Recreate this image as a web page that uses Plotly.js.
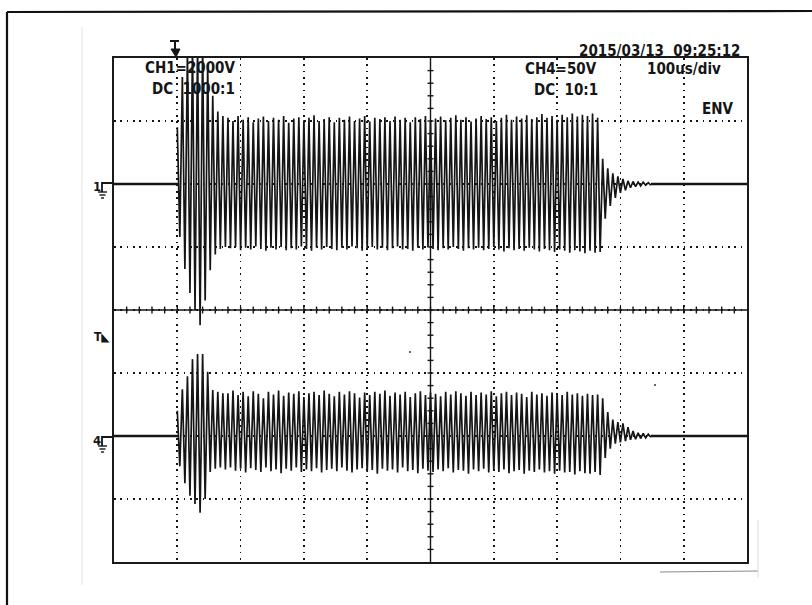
<!DOCTYPE html>
<html><head><meta charset="utf-8">
<script src="https://cdn.plot.ly/plotly-3.0.1.min.js"></script>
<style>html,body{margin:0;padding:0;background:#fff}#chart{width:812px;height:605px}</style>
</head><body><div id="chart"></div>
<script>
// ---- data (time in µs, 100 µs/div; amplitude in screen divisions) ----
const triggerTime = 100;      // burst start
const pairStep = 8;           // µs between successive crests of the envelope record
const ch1Level = 2.0;         // CH1 ground marker
const ch4Level = -2.0;        // CH4 ground marker

const ch1High = [2.9,3.7,4.1,4.2,4.2,4.2,3.9,3.4,3.15,3.08,
 3.05,3.0,3.08,3.02,3.06,2.98,3.04,3.07,3.0,3.05,
 3.02,3.08,2.97,3.04,3.06,3.01,3.05,3.09,3.0,3.03,
 3.06,2.98,3.05,3.02,3.07,3.0,3.04,3.08,2.99,3.05,
 3.03,3.06,3.0,3.07,3.02,3.05,2.98,3.06,3.03,3.08,
 3.0,3.04,3.07,3.01,3.05,3.09,3.02,3.06,2.99,3.04,
 3.08,3.03,3.06,3.0,3.05,3.1,3.02,3.07,3.04,3.09,
 3.03,3.06,3.11,3.05,3.08,3.02,3.1,3.06,3.12,3.07,
 3.1,3.08,3.12,3.05,
 2.4,2.25,2.17,2.12,2.08,2.05,2.04,2.03,2.03,2.02];
const ch1Low = [1.16,0.65,0.27,0.0,-0.24,0.15,0.63,0.88,0.97,1.0,
 0.98,1.0,0.95,0.99,0.96,1.01,0.97,0.94,0.99,0.96,
 1.0,0.95,0.98,0.96,1.01,0.97,0.94,0.99,0.96,1.0,
 0.97,0.95,0.99,0.96,1.01,0.98,0.94,0.97,1.0,0.96,
 0.99,0.95,0.98,1.01,0.96,0.97,0.94,0.99,0.96,1.0,
 0.97,0.95,0.98,0.96,1.0,0.97,0.94,0.98,0.96,0.99,
 0.95,0.97,1.0,0.96,0.93,0.98,0.95,0.97,0.94,0.99,
 0.96,0.93,0.97,0.95,0.92,0.96,0.94,0.91,0.95,0.93,
 0.9,0.94,0.91,0.92,
 1.45,1.65,1.78,1.86,1.9,1.94,1.96,1.97,1.98,1.98];
const ch4High = [-1.6,-1.26,-1.05,-0.78,-0.7,-0.7,-0.98,-1.27,-1.3,-1.32,
 -1.32,-1.28,-1.35,-1.3,-1.37,-1.29,-1.33,-1.4,-1.3,-1.34,
 -1.28,-1.36,-1.31,-1.33,-1.29,-1.38,-1.32,-1.3,-1.35,-1.28,
 -1.33,-1.37,-1.3,-1.34,-1.29,-1.32,-1.39,-1.31,-1.35,-1.3,
 -1.33,-1.28,-1.36,-1.31,-1.34,-1.3,-1.38,-1.32,-1.29,-1.35,
 -1.31,-1.33,-1.37,-1.3,-1.34,-1.29,-1.32,-1.36,-1.3,-1.35,
 -1.31,-1.34,-1.29,-1.37,-1.32,-1.3,-1.35,-1.31,-1.33,-1.38,
 -1.3,-1.34,-1.32,-1.36,-1.31,-1.33,-1.35,-1.3,-1.34,-1.32,
 -1.36,-1.33,-1.35,-1.34,
 -1.4,-1.62,-1.74,-1.78,-1.8,-1.86,-1.92,-1.95,-1.96,-1.97];
const ch4Low = [-2.48,-2.75,-2.95,-3.08,-3.22,-3.0,-2.57,-2.52,-2.5,-2.53,
 -2.5,-2.55,-2.52,-2.58,-2.51,-2.54,-2.57,-2.5,-2.56,-2.53,
 -2.59,-2.52,-2.55,-2.5,-2.57,-2.53,-2.56,-2.51,-2.58,-2.54,
 -2.52,-2.56,-2.5,-2.55,-2.58,-2.53,-2.51,-2.57,-2.54,-2.6,
 -2.52,-2.55,-2.53,-2.58,-2.5,-2.56,-2.54,-2.59,-2.52,-2.55,
 -2.57,-2.53,-2.56,-2.51,-2.58,-2.54,-2.55,-2.6,-2.53,-2.56,
 -2.52,-2.58,-2.55,-2.57,-2.53,-2.59,-2.56,-2.54,-2.6,-2.55,
 -2.57,-2.53,-2.58,-2.56,-2.6,-2.55,-2.58,-2.57,-2.61,-2.56,
 -2.59,-2.6,-2.57,-2.62,
 -2.35,-2.2,-2.12,-2.1,-2.08,-2.06,-2.05,-2.04,-2.03,-2.02];

const ch1Labels = ['CH1=2000V', 'DC\u00a0\u00a01000:1'];
const ch4Labels = ['CH4=50V', 'DC\u00a0\u00a010:1'];
const timeLabel = '100us/div';
const modeLabel = 'ENV';
const dateLabel = '2015/03/13\u00a0\u00a009:25:12';
const xRange = [0, 1000];
const yRange = [-4, 4];

// ---- build ----
function zig(hi, lo){ const y=[]; hi.forEach((h,i)=>{ y.push(h, lo[i]); }); return y; }
const burstEnd = triggerTime + (ch1High.length - 0.5) * pairStep;

const FONT = 'DejaVu Sans Condensed, Liberation Sans Narrow, Arial Narrow, sans-serif';
const INK = '#151515';
const waveLine = {color: INK, width: 1.7, simplify: false};
const baseLine = {color: INK, width: 2.6};

const traces = [
  {type:'scatter', mode:'text', x:[120, 125.6], y:[3.825, 3.49], text: ch1Labels,
   textposition:'middle center', textfont:{family:FONT, size:15, color:INK, weight:'bold'}, cliponaxis:false, hoverinfo:'skip'},
  {type:'scatter', mode:'lines', x:[xRange[0], triggerTime], y:[ch1Level, ch1Level], line: baseLine, hoverinfo:'skip'},
  {type:'scatter', mode:'lines', x:[burstEnd, xRange[1]], y:[ch1Level, ch1Level], line: baseLine, hoverinfo:'skip'},
  {type:'scatter', mode:'lines', x:[xRange[0], triggerTime], y:[ch4Level, ch4Level], line: baseLine, hoverinfo:'skip'},
  {type:'scatter', mode:'lines', x:[burstEnd, xRange[1]], y:[ch4Level, ch4Level], line: baseLine, hoverinfo:'skip'},
  {type:'scatter', mode:'lines', x0: triggerTime, dx: pairStep/2, y: zig(ch1High, ch1Low), line: waveLine, hoverinfo:'skip'},
  {type:'scatter', mode:'lines', x0: triggerTime, dx: pairStep/2, y: zig(ch4High, ch4Low), line: waveLine, hoverinfo:'skip'}
];

// pixel -> paper helpers for decoration (plot area 114..747 x 58..562)
const L=114, T=58, W=633, H=504;
const px = p => (p - L) / W;
const py = p => 1 - (p - T) / H;

const shapes = [];
// centre graticule lines with minor ticks
shapes.push({type:'line', xref:'x', yref:'paper', x0:500, x1:500, y0:0, y1:1, line:{color:INK, width:1.4}});
shapes.push({type:'line', xref:'paper', yref:'y', x0:0, x1:1, y0:0, y1:0, line:{color:INK, width:1.4}});
for (let t = 20; t < 1000; t += 20) shapes.push({type:'line', xref:'x', yref:'y', x0:t, x1:t, y0:-0.055, y1:0.055, line:{color:INK, width:1.4}});
for (let v = -3.8; v < 3.9; v += 0.2) shapes.push({type:'line', xref:'x', yref:'y', x0:495.3, x1:504.7, y0:v, y1:v, line:{color:INK, width:1.4}});

// outer page frame and scan marks
shapes.push({type:'line', xref:'paper', yref:'paper', x0:px(7), x1:px(812), y0:py(12), y1:py(11), line:{color:'#111', width:2.2}});
shapes.push({type:'line', xref:'paper', yref:'paper', x0:px(7), x1:px(7), y0:py(12), y1:py(606), line:{color:'#111', width:2.2}});
shapes.push({type:'line', xref:'paper', yref:'paper', x0:px(82), x1:px(82), y0:py(27), y1:py(585), line:{color:'#e2e2e2', width:1}});
shapes.push({type:'line', xref:'paper', yref:'paper', x0:px(660), x1:px(758), y0:py(572), y1:py(571), line:{color:'#8a8a8a', width:1}});
shapes.push({type:'line', xref:'paper', yref:'paper', x0:px(758), x1:px(758), y0:py(520), y1:py(578), line:{color:'#dcdcdc', width:1}});
[[410,352],[655,385]].forEach(([a,b]) => shapes.push({type:'circle', xref:'paper', yref:'paper', x0:px(a-1), x1:px(a+1), y0:py(b-1), y1:py(b+1), fillcolor:'#333', line:{width:0}}));

// channel ground markers
function ground(yp){
  shapes.push({type:'path', xref:'paper', yref:'paper', path:`M${px(114)},${py(yp)} L${px(102)},${py(yp)} L${px(102)},${py(yp+9)}`, line:{color:INK, width:1.8}});
  shapes.push({type:'line', xref:'paper', yref:'paper', x0:px(98), x1:px(107), y0:py(yp+9), y1:py(yp+9), line:{color:INK, width:1.4}});
  shapes.push({type:'line', xref:'paper', yref:'paper', x0:px(99.5), x1:px(105.5), y0:py(yp+12), y1:py(yp+12), line:{color:INK, width:1.4}});
  shapes.push({type:'line', xref:'paper', yref:'paper', x0:px(101), x1:px(104), y0:py(yp+15), y1:py(yp+15), line:{color:INK, width:1.4}});
}
ground(183); ground(437);
// trigger position marker at the top
shapes.push({type:'line', xref:'paper', yref:'paper', x0:px(170), x1:px(179), y0:py(41), y1:py(41), line:{color:INK, width:2}});
shapes.push({type:'line', xref:'paper', yref:'paper', x0:px(175), x1:px(175), y0:py(41), y1:py(51), line:{color:INK, width:2}});
shapes.push({type:'path', xref:'paper', yref:'paper', path:`M${px(171)},${py(49)} L${px(180)},${py(49)} L${px(176)},${py(57)} Z`, fillcolor:INK, line:{color:INK, width:1}});

const tf = (s) => ({family:FONT, size:s, color:INK, weight:'bold'});
const annotations = [
  {xref:'paper', yref:'paper', x:px(743), y:py(51), xanchor:'right', yanchor:'middle', text:dateLabel, showarrow:false, font:tf(15)},
  {xref:'paper', yref:'paper', x:px(561), y:py(69), xanchor:'center', yanchor:'middle', text:ch4Labels[0], showarrow:false, font:tf(15)},
  {xref:'paper', yref:'paper', x:px(566), y:py(90), xanchor:'center', yanchor:'middle', text:ch4Labels[1], showarrow:false, font:tf(15)},
  {xref:'paper', yref:'paper', x:px(684), y:py(69), xanchor:'center', yanchor:'middle', text:timeLabel, showarrow:false, font:tf(15)},
  {xref:'paper', yref:'paper', x:px(718), y:py(109), xanchor:'center', yanchor:'middle', text:modeLabel, showarrow:false, font:tf(15)},
  {xref:'paper', yref:'paper', x:px(97), y:py(186), xanchor:'center', yanchor:'middle', text:'1', showarrow:false, font:tf(13)},
  {xref:'paper', yref:'paper', x:px(97), y:py(440), xanchor:'center', yanchor:'middle', text:'4', showarrow:false, font:tf(13)},
  {xref:'paper', yref:'paper', x:px(102), y:py(337), xanchor:'center', yanchor:'middle', text:'T◣', showarrow:false, font:tf(12)}
];

const axisCommon = {showgrid:true, gridcolor:INK, gridwidth:1.7, griddash:'1.7px,4.63px', showticklabels:false, ticks:'',
  zeroline:false, showline:true, mirror:true, linecolor:'#1a1a1a', linewidth:2, fixedrange:true};

const layout = {
  width:812, height:605, margin:{l:114, r:65, t:58, b:43},
  paper_bgcolor:'#ffffff', plot_bgcolor:'#ffffff', showlegend:false,
  xaxis:Object.assign({range:xRange, dtick:100, tick0:0}, axisCommon),
  yaxis:Object.assign({range:yRange, dtick:1, tick0:0}, axisCommon),
  shapes, annotations
};
Plotly.newPlot('chart', traces, layout, {displayModeBar:false, staticPlot:true});
</script></body></html>
